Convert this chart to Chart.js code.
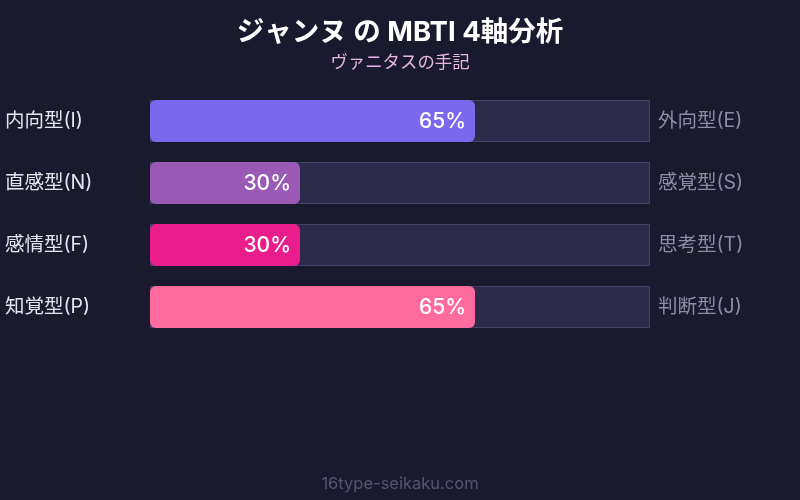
<!DOCTYPE html>
<html>
<head>
<meta charset="utf-8">
<script src="https://cdn.jsdelivr.net/npm/chart.js@4"></script>
<style>
  body { margin: 0; background: #1a1a2e; }
  canvas { display: block; }
</style>
</head>
<body>
<canvas id="main-chart" width="800" height="500"></canvas>
<script>
const leftLabels = ["内向型(I)", "直感型(N)", "感情型(F)", "知覚型(P)"];
const rightLabels = ["外向型(E)", "感覚型(S)", "思考型(T)", "判断型(J)"];
const scores = [65, 30, 30, 65];
const trackValues = [100, 100, 100, 100];
const barColors = ["#7b68ee", "#9b59b6", "#e91e8c", "#ff6b9d"];

const FONT = "Inter, 'Noto Sans CJK JP', sans-serif";

const textPlugin = {
  id: 'texts',
  beforeDraw(chart) {
    const ctx = chart.ctx;
    ctx.save();
    ctx.fillStyle = '#1a1a2e';
    ctx.fillRect(0, 0, chart.width, chart.height);
    ctx.restore();
  },
  afterDraw(chart) {
    const ctx = chart.ctx;
    const yScale = chart.scales.y;
    const xScale = chart.scales.x;
    ctx.save();
    ctx.textBaseline = 'middle';

    ctx.textAlign = 'center';
    ctx.fillStyle = '#ffffff';
    ctx.font = `bold 27.5px ${FONT}`;
    ctx.fillText("ジャンヌ の MBTI 4軸分析", 400, 33);
    ctx.fillStyle = '#e4b4e4';
    ctx.font = `17.4px ${FONT}`;
    ctx.fillText("ヴァニタスの手記", 400, 63);
    ctx.fillStyle = '#555573';
    ctx.font = `16.5px ${FONT}`;
    ctx.fillText("16type-seikaku.com", 400, 484);

    leftLabels.forEach((lab, i) => {
      const y = yScale.getPixelForValue(i);
      ctx.textAlign = 'left';
      ctx.fillStyle = '#e4e4f0';
      ctx.font = `19.5px ${FONT}`;
      ctx.fillText(lab, 5, y);
      ctx.fillStyle = '#8c8ca4';
      ctx.fillText(rightLabels[i], xScale.right + 8, y);
      ctx.textAlign = 'right';
      ctx.fillStyle = '#ffffff';
      ctx.font = `500 21px ${FONT}`;
      ctx.fillText(scores[i] + '%', xScale.getPixelForValue(scores[i]) - 9, y + 1);
    });
    ctx.restore();
  }
};

document.addEventListener("DOMContentLoaded", () => {
  const canvas1 = document.getElementById("main-chart");
  new Chart(canvas1, {
    type: 'bar',
    data: {
      labels: leftLabels,
      datasets: [{
        data: scores,
        backgroundColor: barColors,
        borderRadius: 6,
        borderSkipped: false,
        grouped: false,
        barPercentage: 0.68,
        categoryPercentage: 1
      }, {
        data: trackValues,
        backgroundColor: '#2d2b4a',
        borderColor: '#45436a',
        borderWidth: 1,
        borderSkipped: false,
        grouped: false,
        barPercentage: 0.68,
        categoryPercentage: 1
      }]
    },
    options: {
      indexAxis: 'y',
      responsive: false,
      animation: false,
      layout: { padding: { left: 150, right: 150, top: 90, bottom: 162 } },
      plugins: {
        legend: { display: false },
        tooltip: { enabled: false }
      },
      scales: {
        x: { min: 0, max: 100, display: false },
        y: { display: false }
      }
    },
    plugins: [textPlugin]
  });
});
</script>
</body>
</html>
